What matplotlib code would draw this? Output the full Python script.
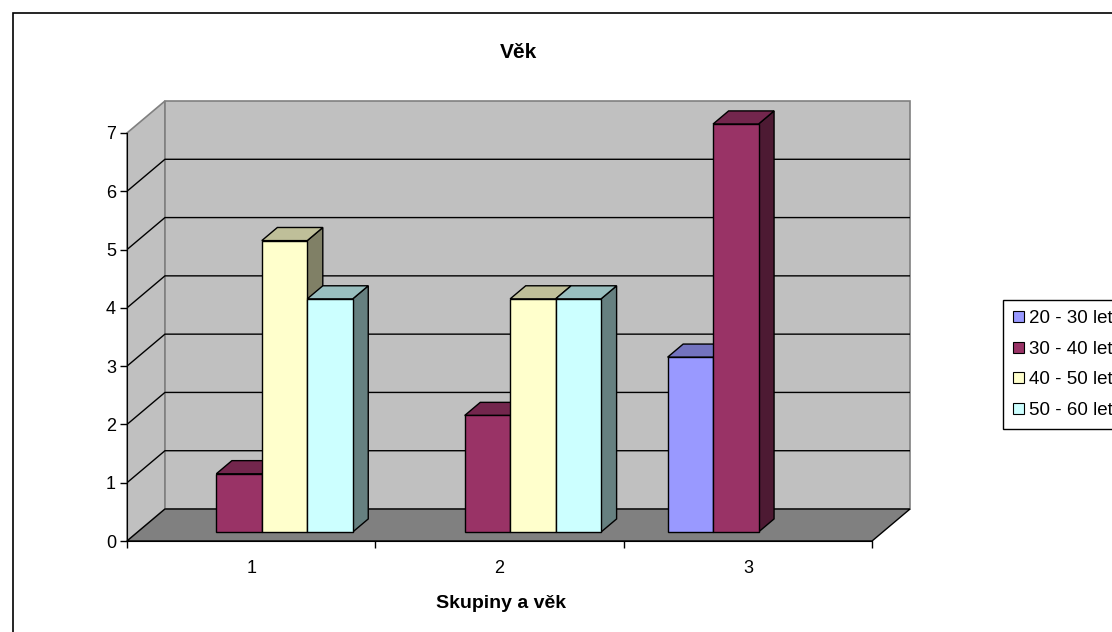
import matplotlib
matplotlib.use('Agg')
import matplotlib.pyplot as plt
from matplotlib.patches import Polygon, Rectangle, Patch

plt.rcParams['font.family'] = ['Liberation Sans', 'DejaVu Sans']

# data
groups = ['1', '2', '3']
series = ['20 - 30 let', '30 - 40 let', '40 - 50 let', '50 - 60 let']
v_20_30 = [0, 0, 3]
v_30_40 = [1, 2, 7]
v_40_50 = [5, 4, 0]
v_50_60 = [4, 4, 0]
values = [v_20_30, v_30_40, v_40_50, v_50_60]
colors = ['#9999FF', '#993366', '#FFFFCC', '#CCFFFF']
yticks = list(range(0, 8))


def shade(c, k):
    c = c.lstrip('#')
    r, g, b = (int(c[i:i + 2], 16) for i in (0, 2, 4))
    return (r * k / 255, g * k / 255, b * k / 255)


fig = plt.figure(figsize=(11.12, 6.32), dpi=100)
W, H = 1112, 632

# plot area in pixels: front plane x 127..873, y 541 (0) .. 133 (7)
ymax = 7
DX = 38 / 248.7   # depth offset in category units
DY = 32 / 58.3    # depth offset in value units
ax = fig.add_axes([127 / W, (H - 541) / H, 783 / W, 440 / H])
ax.set_xlim(0, 3 + DX)
ax.set_ylim(0, ymax + DY)
ax.patch.set_visible(False)

# side wall, back wall, floor
ax.add_patch(Polygon([(0, 0), (0, ymax), (DX, ymax + DY), (DX, DY)],
                     closed=True, fc='#C0C0C0', ec='#808080', lw=1.2, zorder=0, clip_on=False))
ax.add_patch(Polygon([(DX, DY), (DX, ymax + DY), (3 + DX, ymax + DY), (3 + DX, DY)],
                     closed=True, fc='#C0C0C0', ec='#808080', lw=1.2, zorder=0, clip_on=False))
ax.add_patch(Polygon([(0, 0), (3, 0), (3 + DX, DY), (DX, DY)],
                     closed=True, fc='#808080', ec='black', lw=1, zorder=1, clip_on=False))

# gridlines
for v in yticks[1:-1]:
    ax.plot([0, DX, 3 + DX], [v, v + DY, v + DY], color='black', lw=1, zorder=1)

# bars
gap = 0.134
bw = (1 - 2 * gap) / len(series)
f0, fd = 0.28, 0.41
ox, oy = f0 * DX, f0 * DY
bx, by = fd * DX, fd * DY
z = 2
for g in range(len(groups)):
    for i, vals in enumerate(values):
        v = vals[g]
        if v == 0:
            continue
        x0 = g + gap + i * bw + ox
        x1 = x0 + bw
        y0 = oy
        y1 = oy + v
        c = colors[i]
        ax.add_patch(Polygon([(x1, y0), (x1 + bx, y0 + by), (x1 + bx, y1 + by), (x1, y1)],
                             closed=True, fc=shade(c, 0.5), ec='black', lw=1, zorder=z))
        ax.add_patch(Polygon([(x0, y1), (x1, y1), (x1 + bx, y1 + by), (x0 + bx, y1 + by)],
                             closed=True, fc=shade(c, 0.75), ec='black', lw=1, zorder=z))
        ax.add_patch(Rectangle((x0, y0), bw, v, fc=c, ec='black', lw=1, zorder=z))
        z += 1

# axes
for s in ['top', 'right']:
    ax.spines[s].set_visible(False)
ax.spines['left'].set_bounds(0, ymax)
ax.spines['bottom'].set_bounds(0, 3)
ax.spines['left'].set_zorder(50)
ax.spines['bottom'].set_zorder(50)
ax.set_yticks(yticks)
ax.set_yticklabels([str(t) for t in yticks], fontsize=13)
ax.set_xticks([0, 1, 2, 3])
ax.set_xticklabels([])
ax.set_xticks([0.5, 1.5, 2.5], minor=True)
ax.set_xticklabels(groups, minor=True, fontsize=13)
ax.tick_params(axis='both', which='major', direction='out', length=5, width=1, color='black')
ax.tick_params(axis='x', which='minor', length=0, pad=14)
ax.tick_params(axis='y', pad=3)

fig.text(518 / W, 1 - 53 / H, 'Věk', fontsize=15, fontweight='bold', ha='center', va='center')
fig.text(501 / W, 1 - 603 / H, 'Skupiny a věk', fontsize=14, fontweight='bold', ha='center', va='center')

# outer border
fig.patches.append(Rectangle((13 / W, -0.1), 2, 1 - 13 / H + 0.1, transform=fig.transFigure,
                             fill=False, ec='black', lw=1.2))

handles = [Patch(fc=c, ec='black', lw=0.8) for c in colors]
fig.legend(handles, series, loc='upper left', bbox_to_anchor=(1003 / W, 1 - 300 / H),
           fontsize=13.5, frameon=True, fancybox=False, edgecolor='black', framealpha=1,
           handlelength=0.55, handleheight=0.55, handletextpad=0.3, labelspacing=0.72,
           borderpad=0.55, borderaxespad=0)

fig.savefig('out.png', dpi=100)
